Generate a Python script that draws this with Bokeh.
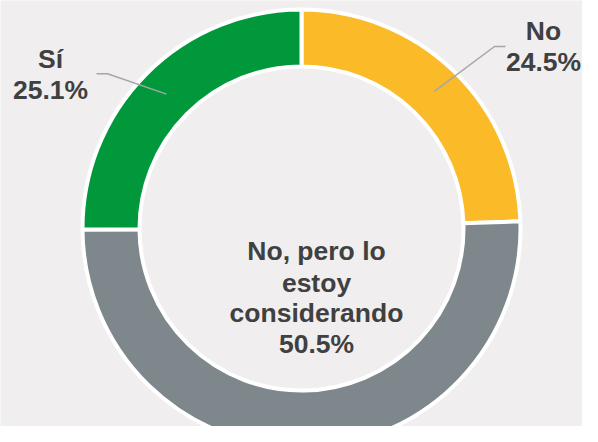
import math
from bokeh.plotting import figure
from bokeh.models import Range1d
from bokeh.core.properties import value
from bokeh.embed import file_html
from bokeh.resources import INLINE

# ---- data ----
categories = ["No", "No, pero lo\nestoy\nconsiderando", "Sí"]
values = [24.5, 50.5, 25.1]
colors = ["#FBBA28", "#7E888C", "#00983B"]

BG = "#F0EEEF"
TEXT = "#404040"
FONT = value("Liberation Sans")

W, H = 582, 426
p = figure(width=W, height=H, output_backend="svg", toolbar_location=None,
           x_range=Range1d(0, W), y_range=Range1d(-H, 0),
           min_border=0, outline_line_color=None,
           background_fill_color=BG, border_fill_color=BG)
p.axis.visible = False
p.grid.visible = False

cx, cy = 301, -228
r_in, r_out = 162, 219
r_mid = (r_in + r_out) / 2

total = sum(values)
start = math.pi / 2
starts, ends, mids = [], [], []
for v in values:
    sweep = v / total * 2 * math.pi
    end = start - sweep
    starts.append(end)
    ends.append(start)
    mids.append(start - sweep / 2)
    start = end

p.annular_wedge(x=[cx] * 3, y=[cy] * 3, inner_radius=r_in, outer_radius=r_out,
                start_angle=starts, end_angle=ends, direction="anticlock",
                fill_color=colors, line_color="white", line_width=4)

# ---- labels ----
def pct(v):
    return f"{v:.1f}%"

DY = 11  # baseline correction
common = dict(text_font=FONT, text_font_style="bold", text_font_size="26.5px",
              text_color=TEXT, text_align="center", text_baseline="alphabetic")

def ring_point(a):
    return cx + r_mid * math.cos(a), cy + r_mid * math.sin(a)

# No (outside, right)
i = 0
p.text(x=[543, 543], y=[-41.7 + DY, -72.7 + DY], text=[categories[i], pct(values[i])], **common)
px, py = ring_point(mids[i])
p.line(x=[505, 494, px], y=[-46, -46, py], line_color="#A6A6A6", line_width=1.5)

# Sí (outside, left)
i = 2
p.text(x=[50, 50], y=[-69 + DY, -100.7 + DY], text=[categories[i], pct(values[i])], **common)
px, py = ring_point(mids[i])
p.line(x=[96, 107, px], y=[-73.3, -73.3, py], line_color="#A6A6A6", line_width=1.5)

# middle slice (inside)
i = 1
lines = categories[i].split("\n") + [pct(values[i])]
ys = [y + DY for y in [-261.7, -293.3, -323.8, -354]]
p.text(x=[316] * len(lines), y=ys, text=lines, **common)

html = file_html(p, INLINE)
html = html.replace("<body>", f'<body style="background-color:{BG};">', 1)
open("out.html", "w").write(html)
